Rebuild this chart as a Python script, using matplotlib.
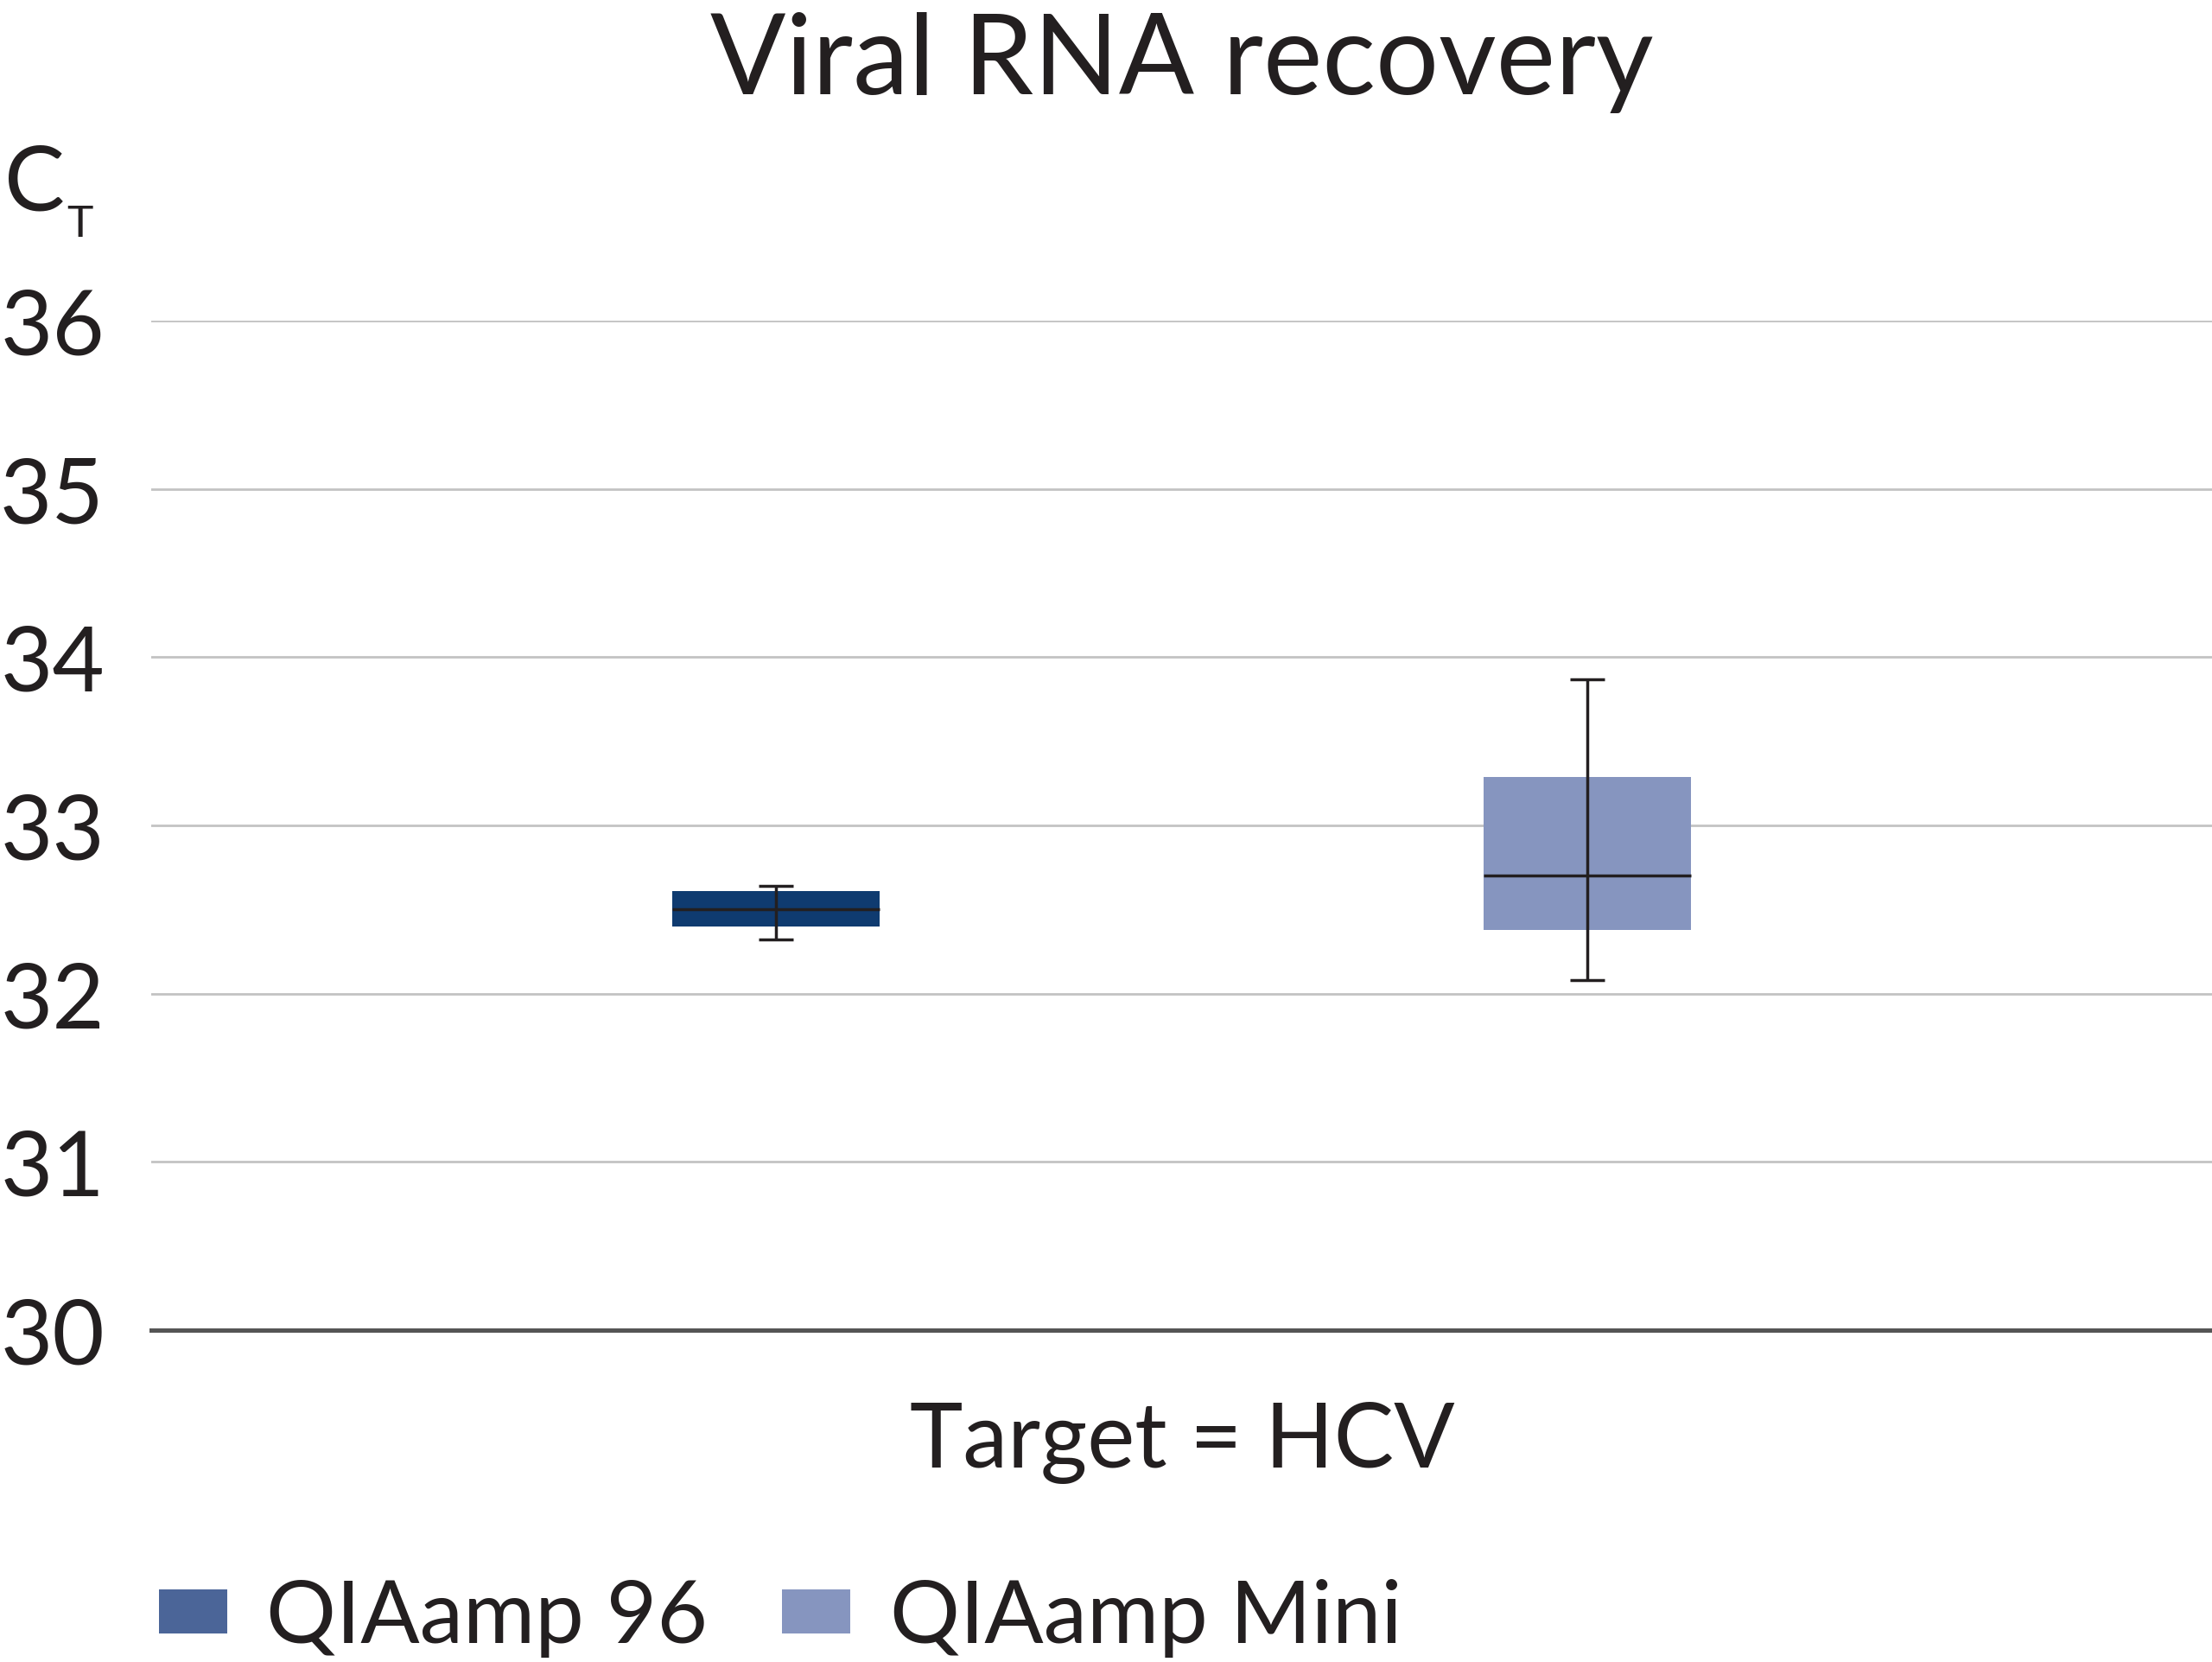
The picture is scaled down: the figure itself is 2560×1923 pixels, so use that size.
import matplotlib
matplotlib.use("Agg")
import matplotlib.pyplot as plt
import numpy as np
from matplotlib.patches import Patch

# ---- data ----
categories = ["QIAamp 96", "QIAamp Mini"]
positions = [1, 2]
q1 = [32.40, 32.38]
median = [32.50, 32.70]
q3 = [32.61, 33.29]
whisker_low = [32.32, 32.08]
whisker_high = [32.64, 33.87]
yticks = [30, 31, 32, 33, 34, 35, 36]
box_colors = ["#0f3b70", "#8695bf"]
legend_colors = ["#4b6598", "#8695bf"]
title = "Viral RNA recovery"
xlabel = "Target = HCV"

plt.rcParams['font.family'] = ['Lato', 'DejaVu Sans']
TXT = '#231f20'

fig = plt.figure(figsize=(12.8, 9.62), dpi=200)
ax = fig.add_axes([0.06836, 0.19958, 0.93164, 0.60707])
ax.set_ylim(30, 36)
ax.set_xlim(0.23, 2.77)
ax.set_yticks(yticks)
ax.set_yticklabels([str(t) for t in yticks])
ax.set_xticks([])
ax.yaxis.grid(True, color='#c3c3c3', linewidth=1.0)
ax.set_axisbelow(True)
for s in ['top', 'right', 'left']:
    ax.spines[s].set_visible(False)
ax.spines['bottom'].set_color('#555555')
ax.spines['bottom'].set_linewidth(1.8)
ax.spines['bottom'].set_zorder(5)
ax.tick_params(axis='y', length=0, pad=19.5, labelsize=37.5, labelcolor=TXT)

pos = np.array(positions, dtype=float)
lo = np.array(q1); hi = np.array(q3); med = np.array(median)
w = 0.2555
ax.bar(pos, hi - lo, bottom=lo, width=w, color=box_colors, zorder=2, linewidth=0)
ax.hlines(med, pos - w / 2, pos + w / 2, colors=TXT, linewidth=1.25, zorder=3)
ax.errorbar(pos, med, yerr=[med - np.array(whisker_low), np.array(whisker_high) - med],
            fmt='none', ecolor=TXT, elinewidth=1.25, capsize=7.2, capthick=1.25, zorder=4)

fig.text(0.5344, 1 - 109 / 1924, title, ha='center', va='baseline', fontsize=46.5, color=TXT)
fig.text(5 / 2560, 1 - 243 / 1924, 'C', ha='left', va='baseline', fontsize=37.7, color=TXT)
fig.text(77 / 2560, 1 - 274 / 1924, 'T', ha='left', va='baseline', fontsize=18.5, color=TXT)
fig.text(0.5344, 1 - 1698 / 1924, xlabel, ha='center', va='baseline', fontsize=37.5, color=TXT)

handles = [Patch(facecolor=c, edgecolor='none') for c in legend_colors]
fig.legend(handles, categories, loc='center left', bbox_to_anchor=(184 / 2560, 1 - 1873 / 1924),
           ncol=2, frameon=False, fontsize=36.4, handlelength=0.78, handleheight=0.4,
           handletextpad=0.45, columnspacing=0.85, borderaxespad=0, borderpad=0,
           labelcolor=TXT)

fig.savefig('out.png', dpi=200)
